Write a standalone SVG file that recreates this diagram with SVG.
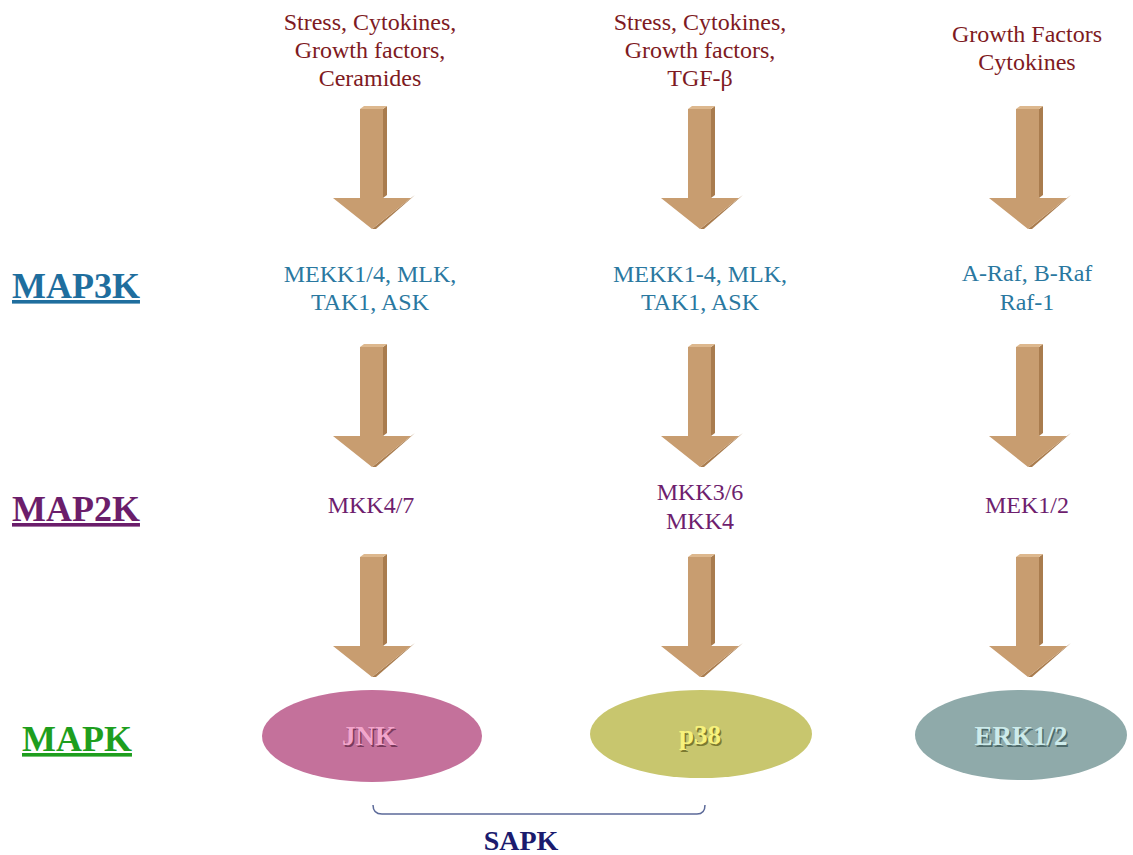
<svg xmlns="http://www.w3.org/2000/svg" width="1133" height="855" viewBox="0 0 1133 855">
<defs>
<style>
.src{font-family:"Liberation Serif","Times New Roman",serif;font-size:24px;fill:#7E1A22;text-anchor:middle}
.k3{font-family:"Liberation Serif","Times New Roman",serif;font-size:24px;fill:#2A78A0;text-anchor:middle}
.k2{font-family:"Liberation Serif","Times New Roman",serif;font-size:24px;fill:#6E1E6E;text-anchor:middle}
.lab{font-family:"Liberation Serif","Times New Roman",serif;font-size:36px;font-weight:bold;text-decoration:underline}
.ell{font-family:"Liberation Serif","Times New Roman",serif;font-size:27px;font-weight:bold;text-anchor:middle}
.face{fill:#C89D70}
.side{fill:#A97C4E}
.top{fill:#DDB88E}
</style>
<g id="arrow">
<polygon class="side" points="11,0 15,-3 15,86 11,89"/>
<polygon class="top" points="-12,0 -8,-3 15,-3 11,0"/>
<polygon class="side" points="39,89 43,86 4,120 0,120"/>
<polygon class="face" points="-12,0 11,0 11,89 39,89 0,120 -39,89 -12,89"/>
</g>
</defs>
<rect width="1133" height="855" fill="#FFFFFF"/>

<g id="labels">
<text class="lab" x="12" y="298" fill="#1F6E9E">MAP3K</text>
<text class="lab" x="12" y="521" fill="#6B1E6B">MAP2K</text>
<text class="lab" x="22" y="751" fill="#1E9E1E">MAPK</text>
</g>

<g id="connectors">
<use href="#arrow" x="372" y="109"/>
<use href="#arrow" x="700" y="109"/>
<use href="#arrow" x="1028" y="109"/>
<use href="#arrow" x="372" y="347"/>
<use href="#arrow" x="700" y="347"/>
<use href="#arrow" x="1028" y="347"/>
<use href="#arrow" x="372" y="557"/>
<use href="#arrow" x="700" y="557"/>
<use href="#arrow" x="1028" y="557"/>
<path d="M373,805 Q373,814 382,814 L697,814 Q705,814 705,805" fill="none" stroke="#5C6A99" stroke-width="1.5"/>
</g>

<g id="src1">
<text class="src" x="370" y="30">Stress, Cytokines,</text>
<text class="src" x="370" y="58">Growth factors,</text>
<text class="src" x="370" y="86">Ceramides</text>
</g>
<g id="src2">
<text class="src" x="700" y="30">Stress, Cytokines,</text>
<text class="src" x="700" y="58">Growth factors,</text>
<text class="src" x="700" y="86">TGF-β</text>
</g>
<g id="src3">
<text class="src" x="1027" y="42">Growth Factors</text>
<text class="src" x="1027" y="70">Cytokines</text>
</g>

<g id="map3k1">
<text class="k3" x="370" y="282">MEKK1/4, MLK,</text>
<text class="k3" x="370" y="310">TAK1, ASK</text>
</g>
<g id="map3k2">
<text class="k3" x="700" y="282">MEKK1-4, MLK,</text>
<text class="k3" x="700" y="310">TAK1, ASK</text>
</g>
<g id="map3k3">
<text class="k3" x="1027" y="281">A-Raf, B-Raf</text>
<text class="k3" x="1027" y="310">Raf-1</text>
</g>

<g id="map2k1"><text class="k2" x="371" y="513">MKK4/7</text></g>
<g id="map2k2">
<text class="k2" x="700" y="500">MKK3/6</text>
<text class="k2" x="700" y="529">MKK4</text>
</g>
<g id="map2k3"><text class="k2" x="1027" y="513">MEK1/2</text></g>

<g id="jnk">
<ellipse cx="372" cy="736" rx="110" ry="46" fill="#C4719B"/>
<text class="ell" x="370.5" y="746.5" fill="#7A3A5C">JNK</text>
<text class="ell" x="369" y="745" fill="#F2A6CC">JNK</text>
</g>
<g id="p38">
<ellipse cx="701" cy="734" rx="111" ry="44" fill="#C8C66E"/>
<text class="ell" x="701.5" y="745.5" fill="#7C7A30">p38</text>
<text class="ell" x="700" y="744" fill="#F7F27C">p38</text>
</g>
<g id="erk">
<ellipse cx="1021" cy="735" rx="106" ry="45" fill="#8FAAAA"/>
<text class="ell" x="1022.5" y="746.5" fill="#4E6A6A">ERK1/2</text>
<text class="ell" x="1021" y="745" fill="#CDEBEB">ERK1/2</text>
</g>

<g id="sapk">
<text x="521" y="850" font-family="Liberation Serif, Times New Roman, serif" font-size="28" font-weight="bold" fill="#1B1B6E" text-anchor="middle">SAPK</text>
</g>
</svg>
